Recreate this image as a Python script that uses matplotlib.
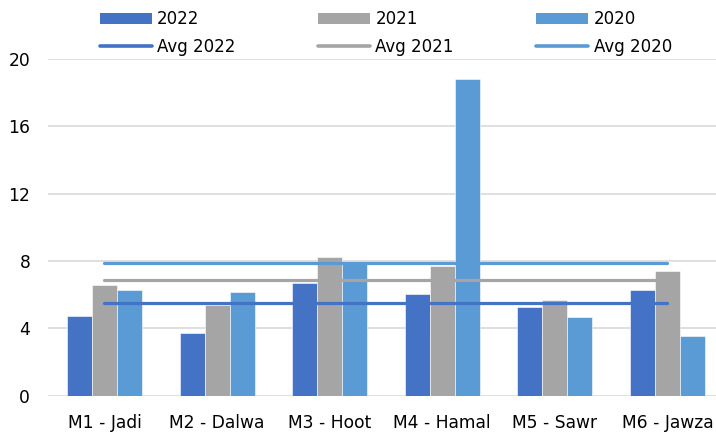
import matplotlib

matplotlib.use("Agg")
import matplotlib.pyplot as plt
import numpy as np
from matplotlib.patches import Patch
from matplotlib.lines import Line2D

categories = ["M1 - Jadi", "M2 - Dalwa", "M3 - Hoot", "M4 - Hamal", "M5 - Sawr", "M6 - Jawza"]
series_names = ["2022", "2021", "2020"]
values_2022 = [4.71, 3.74, 6.71, 6.02, 5.29, 6.28]
values_2021 = [6.57, 5.40, 8.25, 7.70, 5.68, 7.42]
values_2020 = [6.28, 6.14, 7.95, 18.79, 4.65, 3.56]
avg_2022 = 5.50
avg_2021 = 6.85
avg_2020 = 7.90
y_ticks = [0, 4, 8, 12, 16, 20]

colors = ["#4472C4", "#A5A5A5", "#5B9BD5"]

plt.rcParams["font.family"] = ["DejaVu Sans"]

fig = plt.figure(figsize=(7.16, 4.33), dpi=100)
ax = fig.add_axes([48.2 / 716, 1 - 395.7 / 433, (723.8 - 48.2) / 716, (395.7 - 59) / 433])

x = np.arange(len(categories))
width = 0.222
series = [values_2022, values_2021, values_2020]
averages = [avg_2022, avg_2021, avg_2020]

for i, (vals, col) in enumerate(zip(series, colors)):
    ax.bar(x + (i - 1) * width, vals, width, color=col, edgecolor="white", linewidth=0.4, zorder=2)

for avg, col in zip(averages, colors):
    ax.plot([x[0], x[-1]], [avg, avg], color=col, linewidth=2.3, solid_capstyle="round", zorder=3)

ax.set_xlim(-0.5, len(categories) - 0.5)
ax.set_ylim(0, 20)
ax.set_yticks(y_ticks)
ax.set_xticks(x)
ax.set_xticklabels(categories)
ax.grid(axis="y", color="#D9D9D9", linewidth=1.2, zorder=0)
ax.set_axisbelow(True)
for s in ax.spines.values():
    s.set_visible(False)
ax.tick_params(axis="both", length=0, labelsize=12.3, colors="black")
ax.tick_params(axis="y", pad=13)
ax.tick_params(axis="x", pad=13)

handles = []
for name, col in zip(series_names, colors):
    handles.append(Patch(facecolor=col, label=name))
    handles.append(Line2D([0], [0], color=col, linewidth=2.6, solid_capstyle="round", label="Avg " + name))

fig.legend(
    handles=handles,
    loc="upper left",
    bbox_to_anchor=(100 / 716, 1 - 10 / 433),
    ncol=3,
    frameon=False,
    fontsize=12,
    borderpad=0,
    borderaxespad=0,
    handlelength=3.1,
    handleheight=0.64,
    handletextpad=0.33,
    columnspacing=4.96,
    labelspacing=0.6,
)

fig.savefig("out.png", dpi=100)
